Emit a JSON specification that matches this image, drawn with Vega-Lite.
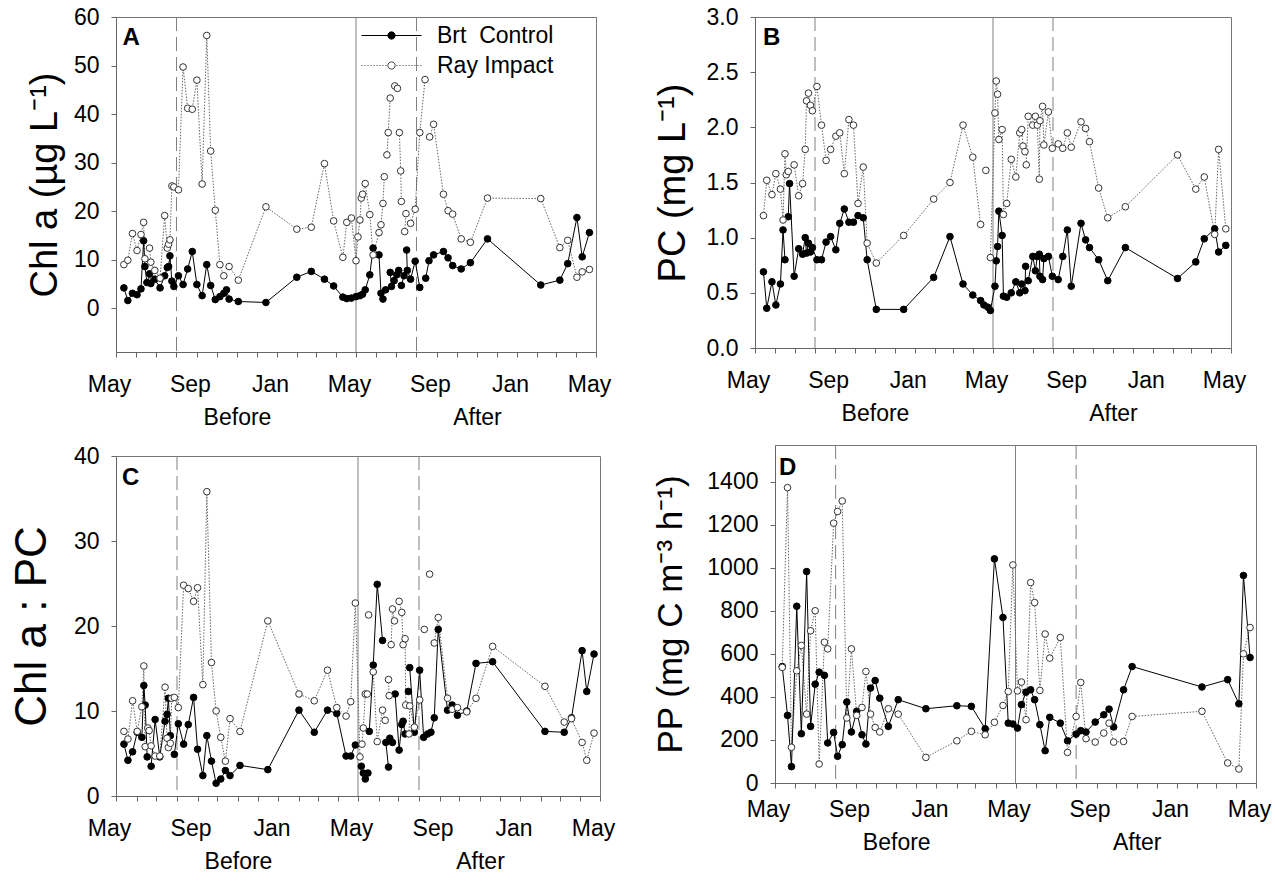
{
"$schema": "https://vega.github.io/schema/vega-lite/v6.json",
"background": "white",
"padding": {"left": 9, "top": 5, "right": 0, "bottom": 0},
"config": {
  "font": "Liberation Sans",
  "view": {"stroke": "#777777", "strokeWidth": 1},
  "axis": {"labelFont": "Liberation Sans", "labelFontSize": 23, "labelColor": "#000000", "titleFont": "Liberation Sans", "titleFontWeight": "normal", "titleColor": "#000000", "domainColor": "#666666", "tickColor": "#666666", "tickSize": 5, "grid": false, "labelFlush": false, "labelOverlap": false, "labelBound": false},
  "axisX": {"labelPadding": 16},
  "axisY": {"labelPadding": 12}
},
"datasets": {
"vlines": [{"date":"2009-08-01","kind":"dashed"},{"date":"2010-05-01","kind":"solid"},{"date":"2010-08-01","kind":"dashed"}],
"A": [
{"date":"2009-05-13","Brt":4.2,"Ray":9.0},{"date":"2009-05-19","Brt":1.6,"Ray":9.9},{"date":"2009-05-26","Brt":3.1,"Ray":15.4},{"date":"2009-06-02","Brt":2.8,"Ray":11.9},{"date":"2009-06-08","Brt":4.0,"Ray":15.2},{"date":"2009-06-12","Brt":13.9,"Ray":17.7},{"date":"2009-06-14","Brt":8.6,"Ray":10.2},{"date":"2009-06-17","Brt":5.3},{"date":"2009-06-21","Brt":7.1,"Ray":12.4},{"date":"2009-06-23","Brt":5.1,"Ray":9.5},{"date":"2009-06-29","Brt":6.0,"Ray":7.8},{"date":"2009-07-07","Brt":4.2,"Ray":6.2},{"date":"2009-07-14","Brt":6.7,"Ray":19.1},{"date":"2009-07-18","Brt":8.4,"Ray":12.4},{"date":"2009-07-20","Brt":8.6,"Ray":13.2},{"date":"2009-07-22","Brt":10.8,"Ray":14.1},{"date":"2009-07-25","Brt":5.6,"Ray":25.2},{"date":"2009-07-28","Brt":4.5,"Ray":25.0},{"date":"2009-08-04","Brt":6.7,"Ray":24.4},{"date":"2009-08-11","Brt":4.9,"Ray":49.7},{"date":"2009-08-18","Brt":8.1,"Ray":41.2},{"date":"2009-08-25","Brt":11.7,"Ray":41.0},{"date":"2009-09-01","Brt":4.9,"Ray":47.0},{"date":"2009-09-09","Brt":2.6,"Ray":25.6},{"date":"2009-09-16","Brt":9.0,"Ray":56.2},{"date":"2009-09-22","Brt":4.7,"Ray":32.4},{"date":"2009-09-29","Brt":1.8,"Ray":20.2},{"date":"2009-10-06","Brt":2.4,"Ray":9.0},{"date":"2009-10-12","Brt":3.1,"Ray":6.7},{"date":"2009-10-16","Brt":3.8},{"date":"2009-10-20","Brt":1.9,"Ray":8.6},{"date":"2009-11-03","Brt":1.4,"Ray":5.8},{"date":"2009-12-15","Brt":1.2,"Ray":20.9},{"date":"2010-01-31","Brt":6.4,"Ray":16.3},{"date":"2010-02-22","Brt":7.6,"Ray":16.7},{"date":"2010-03-14","Brt":6.0,"Ray":29.8},{"date":"2010-03-28","Brt":4.6,"Ray":18.0},{"date":"2010-04-11","Brt":2.3,"Ray":10.5},{"date":"2010-04-17","Brt":2.0,"Ray":17.7},{"date":"2010-04-24","Brt":2.1,"Ray":18.6},{"date":"2010-05-01","Brt":2.4,"Ray":9.8},{"date":"2010-05-04","Ray":14.7},{"date":"2010-05-07","Brt":2.6,"Ray":18.2},{"date":"2010-05-09","Ray":22.7},{"date":"2010-05-11","Brt":2.9,"Ray":23.5},{"date":"2010-05-15","Brt":3.8,"Ray":25.7},{"date":"2010-05-22","Brt":6.9,"Ray":19.3},{"date":"2010-05-27","Brt":12.4,"Ray":11.0},{"date":"2010-06-05","Brt":11.0,"Ray":15.6},{"date":"2010-06-08","Brt":3.1,"Ray":17.2},{"date":"2010-06-11","Brt":1.9,"Ray":21.6},{"date":"2010-06-13","Ray":27.1},{"date":"2010-06-15","Brt":3.8},{"date":"2010-06-17","Ray":31.6},{"date":"2010-06-19","Ray":36.2},{"date":"2010-06-22","Brt":7.4,"Ray":43.3},{"date":"2010-06-24","Brt":4.5},{"date":"2010-06-28","Brt":5.7},{"date":"2010-06-29","Ray":45.8},{"date":"2010-07-02","Brt":6.9},{"date":"2010-07-03","Ray":45.3},{"date":"2010-07-05","Brt":7.8},{"date":"2010-07-06","Ray":36.2},{"date":"2010-07-08","Ray":28.3},{"date":"2010-07-09","Brt":4.7,"Ray":22.0},{"date":"2010-07-13","Brt":6.7},{"date":"2010-07-14","Ray":15.8},{"date":"2010-07-16","Ray":19.5},{"date":"2010-07-17","Brt":12.0},{"date":"2010-07-18","Brt":7.8},{"date":"2010-07-23","Brt":6.0,"Ray":17.5},{"date":"2010-07-30","Brt":9.7,"Ray":20.4},{"date":"2010-08-06","Brt":4.3,"Ray":36.2},{"date":"2010-08-14","Ray":47.1},{"date":"2010-08-15","Brt":6.2},{"date":"2010-08-20","Brt":9.8},{"date":"2010-08-21","Ray":35.3},{"date":"2010-08-27","Brt":11.0,"Ray":37.9},{"date":"2010-09-11","Brt":11.7,"Ray":23.5},{"date":"2010-09-18","Brt":10.4,"Ray":20.1},{"date":"2010-09-25","Brt":8.8,"Ray":19.4},{"date":"2010-10-08","Brt":8.1,"Ray":14.3},{"date":"2010-10-22","Brt":9.4,"Ray":13.6},{"date":"2010-11-17","Brt":14.3,"Ray":22.7},{"date":"2011-02-06","Brt":4.8,"Ray":22.6},{"date":"2011-03-07","Brt":5.8,"Ray":12.5},{"date":"2011-03-19","Brt":9.2,"Ray":14.0},{"date":"2011-04-02","Brt":18.7,"Ray":6.4},{"date":"2011-04-10","Brt":10.6,"Ray":7.5},{"date":"2011-04-21","Brt":15.6,"Ray":8.0}
],
"B": [
{"date":"2009-05-14","Brt":0.69,"Ray":1.20},{"date":"2009-05-19","Brt":0.36,"Ray":1.52},{"date":"2009-05-27","Brt":0.60,"Ray":1.39},{"date":"2009-06-02","Brt":0.39,"Ray":1.58},{"date":"2009-06-09","Brt":0.58,"Ray":1.44},{"date":"2009-06-13","Brt":1.07,"Ray":1.16},{"date":"2009-06-16","Brt":0.80,"Ray":1.76},{"date":"2009-06-18","Ray":1.57},{"date":"2009-06-21","Brt":1.19,"Ray":1.60},{"date":"2009-06-23","Brt":1.49},{"date":"2009-06-30","Brt":0.65,"Ray":1.66},{"date":"2009-07-07","Brt":0.90,"Ray":1.38},{"date":"2009-07-13","Brt":0.85,"Ray":1.49},{"date":"2009-07-17","Brt":1.00,"Ray":1.80},{"date":"2009-07-19","Brt":0.86,"Ray":2.24},{"date":"2009-07-22","Brt":0.95,"Ray":2.31},{"date":"2009-07-25","Brt":0.87,"Ray":2.20},{"date":"2009-07-28","Brt":0.91,"Ray":2.15},{"date":"2009-08-04","Brt":0.80,"Ray":2.37},{"date":"2009-08-11","Brt":0.80,"Ray":2.02},{"date":"2009-08-18","Brt":0.96,"Ray":1.70},{"date":"2009-08-25","Brt":1.01,"Ray":1.80},{"date":"2009-09-02","Brt":0.89,"Ray":1.92},{"date":"2009-09-08","Brt":1.13,"Ray":1.95},{"date":"2009-09-15","Brt":1.26,"Ray":1.58},{"date":"2009-09-22","Brt":1.14,"Ray":2.07},{"date":"2009-09-29","Brt":1.14,"Ray":2.02},{"date":"2009-10-06","Brt":1.20,"Ray":1.31},{"date":"2009-10-14","Brt":1.18,"Ray":1.64},{"date":"2009-10-20","Brt":0.80,"Ray":0.95},{"date":"2009-11-03","Brt":0.35,"Ray":0.77},{"date":"2009-12-15","Brt":0.35,"Ray":1.02},{"date":"2010-01-30","Brt":0.64,"Ray":1.35},{"date":"2010-02-24","Brt":1.01,"Ray":1.50},{"date":"2010-03-16","Brt":0.58,"Ray":2.02},{"date":"2010-03-31","Brt":0.48,"Ray":1.73},{"date":"2010-04-12","Brt":0.43,"Ray":1.12},{"date":"2010-04-17","Brt":0.39},{"date":"2010-04-20","Ray":1.61},{"date":"2010-04-23","Brt":0.37},{"date":"2010-04-27","Brt":0.34,"Ray":0.82},{"date":"2010-05-04","Brt":0.56,"Ray":2.13},{"date":"2010-05-06","Brt":0.79,"Ray":2.42},{"date":"2010-05-08","Brt":0.92,"Ray":2.30},{"date":"2010-05-10","Brt":1.24,"Ray":1.89},{"date":"2010-05-15","Brt":1.02,"Ray":1.98},{"date":"2010-05-17","Brt":0.47,"Ray":1.21},{"date":"2010-05-22","Brt":0.46,"Ray":1.31},{"date":"2010-05-29","Brt":0.50,"Ray":1.71},{"date":"2010-06-05","Brt":0.60,"Ray":1.55},{"date":"2010-06-11","Brt":0.50,"Ray":1.95},{"date":"2010-06-14","Brt":0.58,"Ray":1.98},{"date":"2010-06-16","Ray":1.83},{"date":"2010-06-19","Brt":0.52,"Ray":1.78},{"date":"2010-06-20","Brt":0.74},{"date":"2010-06-21","Ray":1.66},{"date":"2010-06-24","Brt":0.61,"Ray":2.10},{"date":"2010-07-01","Brt":0.83,"Ray":2.02},{"date":"2010-07-05","Brt":0.70,"Ray":2.10},{"date":"2010-07-08","Brt":0.83,"Ray":2.02},{"date":"2010-07-11","Brt":0.85,"Ray":1.53},{"date":"2010-07-12","Brt":0.65,"Ray":2.06},{"date":"2010-07-16","Brt":0.62,"Ray":2.19},{"date":"2010-07-18","Brt":0.81,"Ray":1.84},{"date":"2010-07-25","Brt":0.83,"Ray":2.14},{"date":"2010-07-31","Brt":0.65,"Ray":1.81},{"date":"2010-08-09","Brt":0.62,"Ray":1.85},{"date":"2010-08-16","Brt":0.83,"Ray":1.81},{"date":"2010-08-23","Brt":1.07,"Ray":1.95},{"date":"2010-08-29","Brt":0.56,"Ray":1.82},{"date":"2010-09-13","Brt":1.13,"Ray":2.05},{"date":"2010-09-20","Brt":0.98,"Ray":1.99},{"date":"2010-09-26","Brt":0.91,"Ray":1.87},{"date":"2010-10-10","Brt":0.80,"Ray":1.45},{"date":"2010-10-24","Brt":0.61,"Ray":1.18},{"date":"2010-11-20","Brt":0.91,"Ray":1.28},{"date":"2011-02-08","Brt":0.63,"Ray":1.75},{"date":"2011-03-08","Brt":0.78,"Ray":1.44},{"date":"2011-03-21","Brt":0.99,"Ray":1.55},{"date":"2011-04-06","Brt":1.08,"Ray":1.03},{"date":"2011-04-12","Brt":0.87,"Ray":1.80},{"date":"2011-04-23","Brt":0.93,"Ray":1.08}
],
"C": [
{"date":"2009-05-13","Brt":6.1,"Ray":7.6},{"date":"2009-05-19","Brt":4.2,"Ray":6.7},{"date":"2009-05-26","Brt":5.2,"Ray":11.2},{"date":"2009-06-02","Brt":7.5,"Ray":7.6},{"date":"2009-06-09","Brt":6.9,"Ray":10.5},{"date":"2009-06-12","Brt":13.0,"Ray":15.3},{"date":"2009-06-14","Brt":10.7,"Ray":5.8},{"date":"2009-06-17","Brt":4.6},{"date":"2009-06-18","Ray":8.0},{"date":"2009-06-20","Ray":7.7},{"date":"2009-06-23","Brt":3.5,"Ray":5.9},{"date":"2009-06-29","Brt":9.0,"Ray":4.7},{"date":"2009-07-06","Brt":4.6,"Ray":4.7},{"date":"2009-07-14","Brt":8.8,"Ray":12.8},{"date":"2009-07-17","Brt":9.6,"Ray":6.8},{"date":"2009-07-19","Brt":11.5,"Ray":5.7},{"date":"2009-07-22","Brt":7.1,"Ray":6.2},{"date":"2009-07-24","Ray":11.5},{"date":"2009-07-28","Brt":4.9,"Ray":11.6},{"date":"2009-08-03","Brt":8.5,"Ray":10.4},{"date":"2009-08-11","Brt":6.1,"Ray":24.8},{"date":"2009-08-18","Brt":8.4,"Ray":24.4},{"date":"2009-08-26","Brt":11.6,"Ray":22.9},{"date":"2009-09-01","Brt":5.5,"Ray":24.5},{"date":"2009-09-09","Brt":2.4,"Ray":13.1},{"date":"2009-09-15","Brt":7.1,"Ray":35.8},{"date":"2009-09-22","Brt":4.1,"Ray":15.7},{"date":"2009-09-29","Brt":1.5,"Ray":10.0},{"date":"2009-10-06","Brt":2.0,"Ray":6.9},{"date":"2009-10-13","Brt":3.0,"Ray":4.1},{"date":"2009-10-20","Brt":2.4,"Ray":9.1},{"date":"2009-11-04","Brt":3.6,"Ray":7.6},{"date":"2009-12-16","Brt":3.1,"Ray":20.6},{"date":"2010-02-01","Brt":10.1,"Ray":12.0},{"date":"2010-02-24","Brt":7.5,"Ray":11.2},{"date":"2010-03-16","Brt":10.1,"Ray":14.8},{"date":"2010-03-30","Brt":9.7,"Ray":10.4},{"date":"2010-04-13","Brt":4.7,"Ray":9.4},{"date":"2010-04-20","Brt":4.7,"Ray":11.1},{"date":"2010-04-27","Brt":6.0,"Ray":22.7},{"date":"2010-05-04","Ray":4.6},{"date":"2010-05-06","Brt":3.5},{"date":"2010-05-07","Ray":6.1},{"date":"2010-05-09","Brt":2.7,"Ray":8.0},{"date":"2010-05-12","Brt":2.0,"Ray":12.0},{"date":"2010-05-15","Ray":12.0},{"date":"2010-05-16","Brt":2.7},{"date":"2010-05-17","Ray":21.3},{"date":"2010-05-18","Brt":7.6},{"date":"2010-05-24","Brt":15.4,"Ray":14.6},{"date":"2010-05-30","Brt":24.9,"Ray":6.4},{"date":"2010-06-07","Brt":18.3,"Ray":10.1},{"date":"2010-06-11","Ray":8.9},{"date":"2010-06-12","Brt":6.3},{"date":"2010-06-16","Brt":3.4,"Ray":13.7},{"date":"2010-06-17","Ray":11.8},{"date":"2010-06-18","Brt":6.8},{"date":"2010-06-20","Ray":17.8},{"date":"2010-06-22","Brt":6.3,"Ray":22.0},{"date":"2010-06-25","Ray":20.6},{"date":"2010-06-26","Brt":12.0},{"date":"2010-07-02","Brt":5.4,"Ray":22.9},{"date":"2010-07-06","Brt":8.4,"Ray":21.6},{"date":"2010-07-08","Brt":8.8,"Ray":17.8},{"date":"2010-07-11","Brt":7.3,"Ray":18.5},{"date":"2010-07-12","Ray":10.7},{"date":"2010-07-16","Brt":12.3},{"date":"2010-07-17","Ray":7.3},{"date":"2010-07-18","Brt":15.1,"Ray":10.6},{"date":"2010-07-25","Brt":7.5,"Ray":8.1},{"date":"2010-08-02","Brt":14.8,"Ray":11.3},{"date":"2010-08-08","Brt":6.9},{"date":"2010-08-09","Ray":19.6},{"date":"2010-08-14","Brt":7.3},{"date":"2010-08-17","Ray":26.1},{"date":"2010-08-19","Brt":7.5},{"date":"2010-08-24","Brt":9.2,"Ray":18.0},{"date":"2010-08-30","Brt":19.6,"Ray":21.0},{"date":"2010-09-13","Brt":10.1,"Ray":11.5},{"date":"2010-09-20","Brt":10.7,"Ray":10.2},{"date":"2010-09-28","Brt":9.5,"Ray":10.4},{"date":"2010-10-12","Brt":10.0,"Ray":9.9},{"date":"2010-10-26","Brt":15.6,"Ray":11.5},{"date":"2010-11-20","Brt":15.8,"Ray":17.6},{"date":"2011-02-07","Brt":7.6,"Ray":12.9},{"date":"2011-03-08","Brt":7.5,"Ray":8.7},{"date":"2011-03-19","Brt":9.2,"Ray":9.1},{"date":"2011-04-04","Brt":17.1,"Ray":6.3},{"date":"2011-04-11","Brt":12.3,"Ray":4.2},{"date":"2011-04-22","Brt":16.7,"Ray":7.4}
],
"D": [
{"date":"2009-05-12","Brt":541,"Ray":537},{"date":"2009-05-20","Brt":314,"Ray":1372},{"date":"2009-05-26","Brt":76,"Ray":166},{"date":"2009-06-03","Brt":821,"Ray":521},{"date":"2009-06-10","Brt":229,"Ray":639},{"date":"2009-06-18","Brt":982,"Ray":320},{"date":"2009-06-24","Brt":263,"Ray":707},{"date":"2009-07-01","Brt":459,"Ray":800},{"date":"2009-07-07","Brt":515,"Ray":88},{"date":"2009-07-15","Brt":500,"Ray":654},{"date":"2009-07-20","Brt":186,"Ray":623},{"date":"2009-07-29","Brt":235,"Ray":1207},{"date":"2009-08-04","Brt":124,"Ray":1261},{"date":"2009-08-11","Brt":178,"Ray":1310},{"date":"2009-08-18","Brt":376,"Ray":302},{"date":"2009-08-25","Brt":237,"Ray":623},{"date":"2009-09-02","Brt":333,"Ray":314},{"date":"2009-09-10","Brt":224,"Ray":351},{"date":"2009-09-16","Brt":181,"Ray":518},{"date":"2009-09-23","Brt":441,"Ray":320},{"date":"2009-09-30","Brt":476,"Ray":258},{"date":"2009-10-07","Brt":394,"Ray":237},{"date":"2009-10-20","Brt":263,"Ray":345},{"date":"2009-11-04","Brt":387,"Ray":320},{"date":"2009-12-16","Brt":345,"Ray":119},{"date":"2010-02-01","Brt":359,"Ray":196},{"date":"2010-02-23","Brt":356,"Ray":240},{"date":"2010-03-16","Brt":252,"Ray":224},{"date":"2010-03-30","Brt":1041,"Ray":282},{"date":"2010-04-12","Brt":769,"Ray":360},{"date":"2010-04-20","Brt":278,"Ray":425},{"date":"2010-04-27","Brt":274,"Ray":1013},{"date":"2010-05-04","Brt":255,"Ray":428},{"date":"2010-05-10","Brt":364,"Ray":469},{"date":"2010-05-17","Brt":422,"Ray":294},{"date":"2010-05-24","Brt":433,"Ray":931},{"date":"2010-05-30","Brt":387,"Ray":838},{"date":"2010-06-07","Brt":271,"Ray":430},{"date":"2010-06-15","Brt":150,"Ray":692},{"date":"2010-06-22","Brt":305,"Ray":580},{"date":"2010-07-08","Brt":278,"Ray":676},{"date":"2010-07-19","Brt":196,"Ray":142},{"date":"2010-08-01","Brt":227,"Ray":309},{"date":"2010-08-08","Brt":243,"Ray":467},{"date":"2010-08-16","Brt":237,"Ray":206},{"date":"2010-08-30","Brt":283,"Ray":190},{"date":"2010-09-12","Brt":317,"Ray":232},{"date":"2010-09-20","Brt":343,"Ray":278},{"date":"2010-09-27","Brt":260,"Ray":190},{"date":"2010-10-12","Brt":433,"Ray":193},{"date":"2010-10-25","Brt":541,"Ray":309},{"date":"2011-02-08","Brt":446,"Ray":333},{"date":"2011-03-19","Brt":480,"Ray":93},{"date":"2011-04-05","Brt":368,"Ray":65},{"date":"2011-04-12","Brt":964,"Ray":600},{"date":"2011-04-22","Brt":583,"Ray":722}
]
},
"resolve": {"scale": {"fill": "independent", "stroke": "independent", "shape": "independent", "strokeDash": "independent"}},
"columns": 2,
"align": "none",
"spacing": {"row": 14, "column": 37},
"concat": [
{
"width": 480, "height": 335,
"title": {"text": "A", "anchor": "start", "frame": "group", "dx": 6.5, "offset": -43.5, "fontSize": 24, "fontWeight": "bold", "font": "Liberation Sans", "color": "#000000"},
"encoding": {"x": {"field": "date", "type": "temporal", "scale": {"type": "utc", "domain": [{"year": 2009, "month": 5, "date": 1, "utc": true}, {"year": 2011, "month": 5, "date": 1, "utc": true}], "nice": false}, "axis": {"title": null, "tickCount": {"interval": "month", "step": 1}, "labelLineHeight": 33, "labelOffset": {"condition": {"test": "utcmonth(datum.value)==10", "value": 0}, "value": -7}, "labelExpr": "utcmonth(datum.value)==4?'May':utcmonth(datum.value)==8?'Sep':utcmonth(datum.value)==0?'Jan':utcmonth(datum.value)==10?['',utcyear(datum.value)==2009?'Before':'After']:''"}}},
"layer": [
{"data": {"name": "vlines"}, "mark": {"type": "rule", "color": "#808080", "strokeWidth": 1}, "encoding": {"strokeDash": {"field": "kind", "type": "nominal", "scale": {"domain": ["dashed", "solid"], "range": [[14, 6], [1, 0]]}, "legend": null}}},
{"data": {"name": "A"}, "mark": {"type": "line", "color": "#666666", "strokeWidth": 1, "strokeDash": [1.5, 1.5]}, "encoding": {"y": {"field": "Ray", "type": "quantitative", "scale": {"domain": [-9, 60], "nice": false, "zero": false}, "axis": {"title": "Chl a (µg L⁻¹)", "titleFontSize": 38, "titlePadding": 9, "values": [0, 10, 20, 30, 40, 50, 60], "format": "d"}}}},
{"data": {"name": "A"}, "mark": {"type": "line", "color": "#000000", "strokeWidth": 1}, "encoding": {"y": {"field": "Brt", "type": "quantitative", "scale": {"domain": [-9, 60], "nice": false, "zero": false}, "axis": {"title": "Chl a (µg L⁻¹)", "titleFontSize": 38, "titlePadding": 9, "values": [0, 10, 20, 30, 40, 50, 60], "format": "d"}}}},
{"data": {"name": "A"}, "mark": {"type": "point", "filled": true, "fill": "#000000", "stroke": "#000000", "strokeWidth": 1, "size": 44, "opacity": 1}, "encoding": {"y": {"field": "Brt", "type": "quantitative", "scale": {"domain": [-9, 60], "nice": false, "zero": false}, "axis": {"title": "Chl a (µg L⁻¹)", "titleFontSize": 38, "titlePadding": 9, "values": [0, 10, 20, 30, 40, 50, 60], "format": "d"}}}},
{"data": {"name": "A"}, "mark": {"type": "point", "filled": true, "fill": "#ffffff", "stroke": "#333333", "strokeWidth": 1, "size": 44, "opacity": 1}, "encoding": {"y": {"field": "Ray", "type": "quantitative", "scale": {"domain": [-9, 60], "nice": false, "zero": false}, "axis": {"title": "Chl a (µg L⁻¹)", "titleFontSize": 38, "titlePadding": 9, "values": [0, 10, 20, 30, 40, 50, 60], "format": "d"}}}},
{"data": {"values": [{"site": "Brt"}, {"site": "Ray"}]}, "mark": {"type": "point", "filled": true, "opacity": 0},
 "encoding": {
  "shape": {"field": "site", "type": "nominal", "scale": {"domain": ["Brt", "Ray"], "range": ["M-2,0H2M0.243,0A0.243,0.243,0,1,1,-0.243,0A0.243,0.243,0,1,1,0.243,0Z", "M-2,0h0.07M-1.8,0h0.07M-1.6,0h0.07M-1.4,0h0.07M-1.2,0h0.07M-1,0h0.07M-0.8,0h0.07M-0.6,0h0.07M-0.4,0h0.07M0.33,0h0.07M0.53,0h0.07M0.73,0h0.07M0.93,0h0.07M1.13,0h0.07M1.33,0h0.07M1.53,0h0.07M1.73,0h0.07M1.93,0h0.07M0.243,0A0.243,0.243,0,1,1,-0.243,0A0.243,0.243,0,1,1,0.243,0Z"]}, "legend": {"title": null, "orient": "none", "legendX": 260, "legendY": 3, "padding": 0, "symbolSize": 900, "symbolStrokeWidth": 1, "symbolOpacity": 1, "labelFontSize": 23, "labelFont": "Liberation Sans", "labelColor": "#000000", "labelOffset": 30, "rowPadding": 2, "labelExpr": "datum.value == 'Brt' ? 'Brt\u00a0 Control' : 'Ray Impact'"}},
  "fill": {"field": "site", "type": "nominal", "scale": {"domain": ["Brt", "Ray"], "range": ["#000000", "#ffffff"]}, "legend": {"title": null, "orient": "none", "legendX": 260, "legendY": 3, "padding": 0, "symbolSize": 900, "symbolStrokeWidth": 1, "symbolOpacity": 1, "labelFontSize": 23, "labelFont": "Liberation Sans", "labelColor": "#000000", "labelOffset": 30, "rowPadding": 2, "labelExpr": "datum.value == 'Brt' ? 'Brt\u00a0 Control' : 'Ray Impact'"}},
  "stroke": {"field": "site", "type": "nominal", "scale": {"domain": ["Brt", "Ray"], "range": ["#000000", "#444444"]}, "legend": {"title": null, "orient": "none", "legendX": 260, "legendY": 3, "padding": 0, "symbolSize": 900, "symbolStrokeWidth": 1, "symbolOpacity": 1, "labelFontSize": 23, "labelFont": "Liberation Sans", "labelColor": "#000000", "labelOffset": 30, "rowPadding": 2, "labelExpr": "datum.value == 'Brt' ? 'Brt\u00a0 Control' : 'Ray Impact'"}}
 }}
]
},
{
"width": 476, "height": 331,
"title": {"text": "B", "anchor": "start", "frame": "group", "dx": 8, "offset": -44, "fontSize": 24, "fontWeight": "bold", "font": "Liberation Sans", "color": "#000000"},
"encoding": {"x": {"field": "date", "type": "temporal", "scale": {"type": "utc", "domain": [{"year": 2009, "month": 5, "date": 1, "utc": true}, {"year": 2011, "month": 5, "date": 1, "utc": true}], "nice": false}, "axis": {"title": null, "tickCount": {"interval": "month", "step": 1}, "labelLineHeight": 33, "labelOffset": {"condition": {"test": "utcmonth(datum.value)==10", "value": 0}, "value": -7}, "labelExpr": "utcmonth(datum.value)==4?'May':utcmonth(datum.value)==8?'Sep':utcmonth(datum.value)==0?'Jan':utcmonth(datum.value)==10?['',utcyear(datum.value)==2009?'Before':'After']:''"}}},
"layer": [
{"data": {"name": "vlines"}, "mark": {"type": "rule", "color": "#808080", "strokeWidth": 1}, "encoding": {"strokeDash": {"field": "kind", "type": "nominal", "scale": {"domain": ["dashed", "solid"], "range": [[14, 6], [1, 0]]}, "legend": null}}},
{"data": {"name": "B"}, "mark": {"type": "line", "color": "#666666", "strokeWidth": 1, "strokeDash": [1.5, 1.5]}, "encoding": {"y": {"field": "Ray", "type": "quantitative", "scale": {"domain": [0, 3], "nice": false, "zero": false}, "axis": {"title": "PC (mg L⁻¹)", "titleFontSize": 38, "titlePadding": 14, "values": [0, 0.5, 1, 1.5, 2, 2.5, 3], "format": ".1f"}}}},
{"data": {"name": "B"}, "mark": {"type": "line", "color": "#000000", "strokeWidth": 1}, "encoding": {"y": {"field": "Brt", "type": "quantitative", "scale": {"domain": [0, 3], "nice": false, "zero": false}, "axis": {"title": "PC (mg L⁻¹)", "titleFontSize": 38, "titlePadding": 14, "values": [0, 0.5, 1, 1.5, 2, 2.5, 3], "format": ".1f"}}}},
{"data": {"name": "B"}, "mark": {"type": "point", "filled": true, "fill": "#000000", "stroke": "#000000", "strokeWidth": 1, "size": 44, "opacity": 1}, "encoding": {"y": {"field": "Brt", "type": "quantitative", "scale": {"domain": [0, 3], "nice": false, "zero": false}, "axis": {"title": "PC (mg L⁻¹)", "titleFontSize": 38, "titlePadding": 14, "values": [0, 0.5, 1, 1.5, 2, 2.5, 3], "format": ".1f"}}}},
{"data": {"name": "B"}, "mark": {"type": "point", "filled": true, "fill": "#ffffff", "stroke": "#333333", "strokeWidth": 1, "size": 44, "opacity": 1}, "encoding": {"y": {"field": "Ray", "type": "quantitative", "scale": {"domain": [0, 3], "nice": false, "zero": false}, "axis": {"title": "PC (mg L⁻¹)", "titleFontSize": 38, "titlePadding": 14, "values": [0, 0.5, 1, 1.5, 2, 2.5, 3], "format": ".1f"}}}}
]
},
{
"width": 484, "height": 340,
"title": {"text": "C", "anchor": "start", "frame": "group", "dx": 6, "offset": -45, "fontSize": 24, "fontWeight": "bold", "font": "Liberation Sans", "color": "#000000"},
"encoding": {"x": {"field": "date", "type": "temporal", "scale": {"type": "utc", "domain": [{"year": 2009, "month": 5, "date": 1, "utc": true}, {"year": 2011, "month": 5, "date": 1, "utc": true}], "nice": false}, "axis": {"title": null, "tickCount": {"interval": "month", "step": 1}, "labelLineHeight": 33, "labelOffset": {"condition": {"test": "utcmonth(datum.value)==10", "value": 0}, "value": -7}, "labelExpr": "utcmonth(datum.value)==4?'May':utcmonth(datum.value)==8?'Sep':utcmonth(datum.value)==0?'Jan':utcmonth(datum.value)==10?['',utcyear(datum.value)==2009?'Before':'After']:''"}}},
"layer": [
{"data": {"name": "vlines"}, "mark": {"type": "rule", "color": "#808080", "strokeWidth": 1}, "encoding": {"strokeDash": {"field": "kind", "type": "nominal", "scale": {"domain": ["dashed", "solid"], "range": [[14, 6], [1, 0]]}, "legend": null}}},
{"data": {"name": "C"}, "mark": {"type": "line", "color": "#666666", "strokeWidth": 1, "strokeDash": [1.5, 1.5]}, "encoding": {"y": {"field": "Ray", "type": "quantitative", "scale": {"domain": [0, 40], "nice": false, "zero": false}, "axis": {"title": "Chl a : PC", "titleFontSize": 44, "titlePadding": 19, "values": [0, 10, 20, 30, 40], "format": "d"}}}},
{"data": {"name": "C"}, "mark": {"type": "line", "color": "#000000", "strokeWidth": 1}, "encoding": {"y": {"field": "Brt", "type": "quantitative", "scale": {"domain": [0, 40], "nice": false, "zero": false}, "axis": {"title": "Chl a : PC", "titleFontSize": 44, "titlePadding": 19, "values": [0, 10, 20, 30, 40], "format": "d"}}}},
{"data": {"name": "C"}, "mark": {"type": "point", "filled": true, "fill": "#000000", "stroke": "#000000", "strokeWidth": 1, "size": 44, "opacity": 1}, "encoding": {"y": {"field": "Brt", "type": "quantitative", "scale": {"domain": [0, 40], "nice": false, "zero": false}, "axis": {"title": "Chl a : PC", "titleFontSize": 44, "titlePadding": 19, "values": [0, 10, 20, 30, 40], "format": "d"}}}},
{"data": {"name": "C"}, "mark": {"type": "point", "filled": true, "fill": "#ffffff", "stroke": "#333333", "strokeWidth": 1, "size": 44, "opacity": 1}, "encoding": {"y": {"field": "Ray", "type": "quantitative", "scale": {"domain": [0, 40], "nice": false, "zero": false}, "axis": {"title": "Chl a : PC", "titleFontSize": 44, "titlePadding": 19, "values": [0, 10, 20, 30, 40], "format": "d"}}}}
]
},
{
"width": 481, "height": 338,
"title": {"text": "D", "anchor": "start", "frame": "group", "dx": 4, "offset": -35.5, "fontSize": 24, "fontWeight": "bold", "font": "Liberation Sans", "color": "#000000"},
"encoding": {"x": {"field": "date", "type": "temporal", "scale": {"type": "utc", "domain": [{"year": 2009, "month": 5, "date": 1, "utc": true}, {"year": 2011, "month": 5, "date": 1, "utc": true}], "nice": false}, "axis": {"title": null, "labelPadding": 10, "tickCount": {"interval": "month", "step": 1}, "labelLineHeight": 33, "labelOffset": {"condition": {"test": "utcmonth(datum.value)==10", "value": 0}, "value": -7}, "labelExpr": "utcmonth(datum.value)==4?'May':utcmonth(datum.value)==8?'Sep':utcmonth(datum.value)==0?'Jan':utcmonth(datum.value)==10?['',utcyear(datum.value)==2009?'Before':'After']:''"}}},
"layer": [
{"data": {"name": "vlines"}, "mark": {"type": "rule", "color": "#808080", "strokeWidth": 1}, "encoding": {"strokeDash": {"field": "kind", "type": "nominal", "scale": {"domain": ["dashed", "solid"], "range": [[14, 6], [1, 0]]}, "legend": null}}},
{"data": {"name": "D"}, "mark": {"type": "line", "color": "#666666", "strokeWidth": 1, "strokeDash": [1.5, 1.5]}, "encoding": {"y": {"field": "Ray", "type": "quantitative", "scale": {"domain": [0, 1570], "nice": false, "zero": false}, "axis": {"title": "PP (mg C m⁻³ h⁻¹)", "titleFontSize": 35, "titlePadding": 18, "values": [0, 200, 400, 600, 800, 1000, 1200, 1400], "format": "d"}}}},
{"data": {"name": "D"}, "mark": {"type": "line", "color": "#000000", "strokeWidth": 1}, "encoding": {"y": {"field": "Brt", "type": "quantitative", "scale": {"domain": [0, 1570], "nice": false, "zero": false}, "axis": {"title": "PP (mg C m⁻³ h⁻¹)", "titleFontSize": 35, "titlePadding": 18, "values": [0, 200, 400, 600, 800, 1000, 1200, 1400], "format": "d"}}}},
{"data": {"name": "D"}, "mark": {"type": "point", "filled": true, "fill": "#000000", "stroke": "#000000", "strokeWidth": 1, "size": 44, "opacity": 1}, "encoding": {"y": {"field": "Brt", "type": "quantitative", "scale": {"domain": [0, 1570], "nice": false, "zero": false}, "axis": {"title": "PP (mg C m⁻³ h⁻¹)", "titleFontSize": 35, "titlePadding": 18, "values": [0, 200, 400, 600, 800, 1000, 1200, 1400], "format": "d"}}}},
{"data": {"name": "D"}, "mark": {"type": "point", "filled": true, "fill": "#ffffff", "stroke": "#333333", "strokeWidth": 1, "size": 44, "opacity": 1}, "encoding": {"y": {"field": "Ray", "type": "quantitative", "scale": {"domain": [0, 1570], "nice": false, "zero": false}, "axis": {"title": "PP (mg C m⁻³ h⁻¹)", "titleFontSize": 35, "titlePadding": 18, "values": [0, 200, 400, 600, 800, 1000, 1200, 1400], "format": "d"}}}}
]
}
]
}
